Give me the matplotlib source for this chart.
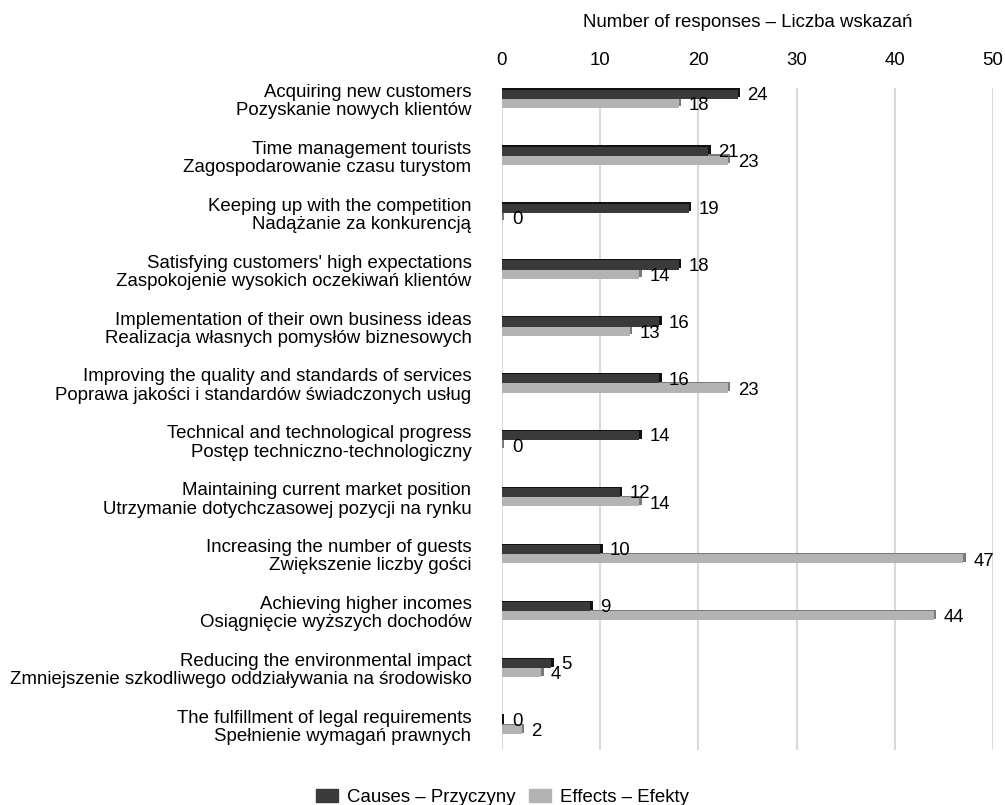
import matplotlib.pyplot as plt
import numpy as np
from matplotlib.patches import Patch

plt.rcParams['font.family'] = ['Liberation Sans', 'DejaVu Sans']

# Categories (English / Polish)
labels_en = [
    "Acquiring new customers",
    "Time management tourists",
    "Keeping up with the competition",
    "Satisfying customers' high expectations",
    "Implementation of their own business ideas",
    "Improving the quality and standards of services",
    "Technical and technological progress",
    "Maintaining current market position",
    "Increasing the number of guests",
    "Achieving higher incomes",
    "Reducing the environmental impact",
    "The fulfillment of legal requirements",
]
labels_pl = [
    "Pozyskanie nowych klientów",
    "Zagospodarowanie czasu turystom",
    "Nadążanie za konkurencją",
    "Zaspokojenie wysokich oczekiwań klientów",
    "Realizacja własnych pomysłów biznesowych",
    "Poprawa jakości i standardów świadczonych usług",
    "Postęp techniczno-technologiczny",
    "Utrzymanie dotychczasowej pozycji na rynku",
    "Zwiększenie liczby gości",
    "Osiągnięcie wyższych dochodów",
    "Zmniejszenie szkodliwego oddziaływania na środowisko",
    "Spełnienie wymagań prawnych",
]
causes = [24, 21, 19, 18, 16, 16, 14, 12, 10, 9, 5, 0]
effects = [18, 23, 0, 14, 13, 23, 0, 14, 47, 44, 4, 2]

dark, dark_edge = "#3a3a3a", "#111111"
light, light_edge = "#b3b3b3", "#7a7a7a"
fs = 13.4

fig = plt.figure(figsize=(10.05, 8.05), dpi=100)
ax = fig.add_axes([0.4995, 1 - 750 / 805, 0.4885, (750 - 88) / 805])

y = np.arange(len(causes))
h = 0.16

# shadow (3D-like edge) then the bar face
ax.barh(y - h / 2 - 0.025, np.array(causes) + 0.25, height=h, color=dark_edge, zorder=2)
ax.barh(y - h / 2, causes, height=h, color=dark, zorder=3)
ax.barh(y + h / 2 - 0.025, np.array(effects) + 0.25, height=h, color=light_edge, zorder=2)
ax.barh(y + h / 2, effects, height=h, color=light, zorder=3)

for i, (c, e) in enumerate(zip(causes, effects)):
    ax.text(c + 1.0, i - h / 2 + 0.02, str(c), va="center", ha="left", fontsize=fs, zorder=4)
    ax.text(e + 1.0, i + h / 2 + 0.04, str(e), va="center", ha="left", fontsize=fs, zorder=4)

ax.set_xlim(0, 50)
ax.set_ylim(len(causes) - 0.56, -0.19)
ax.set_xticks(range(0, 51, 10))
ax.xaxis.tick_top()
ax.xaxis.set_label_position("top")
ax.set_xlabel("Number of responses – Liczba wskazań", fontsize=fs, labelpad=18)
ax.tick_params(axis="x", length=0, labelsize=fs, pad=14)
ax.tick_params(axis="y", length=0, labelsize=fs, pad=22)
ax.set_yticks(y)
ax.set_yticklabels([f"{a}\n{b}" for a, b in zip(labels_en, labels_pl)], linespacing=1.1)
ax.grid(axis="x", color="#d9d9d9", linewidth=1.5, zorder=0)
ax.set_axisbelow(True)
for s in ax.spines.values():
    s.set_visible(False)

handles = [Patch(color=dark, label="Causes – Przyczyny"), Patch(color=light, label="Effects – Efekty")]
fig.legend(handles=handles, loc="lower center", bbox_to_anchor=(0.5, -0.022), ncol=2,
           frameon=False, fontsize=fs, handlelength=1.2, handleheight=0.75,
           handletextpad=0.5, columnspacing=0.7)

fig.savefig("out.png", dpi=100)
